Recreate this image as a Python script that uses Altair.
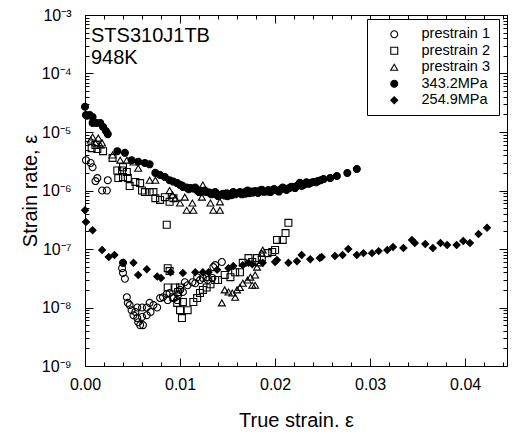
import altair as alt
import pandas as pd

series_names = ["prestrain 1", "prestrain 2", "prestrain 3", "343.2MPa", "254.9MPa"]

prestrain1 = [
    (0.0001, 3.3e-6), (0.0006, 2.95e-6), (0.0008, 2.5e-6), (0.0011, 1.45e-6), (0.0013, 1.63e-6),
    (0.0018, 1.0e-6), (0.0023, 1.0e-6), (0.0024, 1.5e-6),
    (0.0039, 4.7e-8), (0.0040, 5.8e-8), (0.0040, 3.9e-8), (0.0042, 3.1e-8), (0.0044, 1.5e-8),
    (0.0045, 1.2e-8), (0.0047, 1.1e-8), (0.0049, 9.0e-9), (0.0051, 7.4e-9), (0.0053, 8.4e-9),
    (0.0055, 6.6e-9), (0.0055, 1.0e-8), (0.0056, 5.6e-9), (0.0058, 5.0e-9), (0.0060, 1.0e-8),
    (0.0060, 6.9e-9), (0.0061, 5.0e-9), (0.0065, 1.0e-8), (0.0065, 7.4e-9), (0.0068, 1.2e-8),
    (0.0069, 8.4e-9), (0.0072, 1.1e-8), (0.0076, 1.0e-8), (0.0079, 1.45e-8), (0.0082, 1.5e-8),
    (0.0086, 1.7e-8), (0.0087, 1.34e-8), (0.0089, 1.77e-8), (0.0093, 1.45e-8), (0.0097, 1.34e-8),
    (0.0098, 1.63e-8), (0.0100, 2.0e-8), (0.0103, 1.84e-8), (0.0105, 2.7e-8), (0.0108, 2.4e-8),
    (0.0113, 2.7e-8), (0.0116, 2.6e-8), (0.0118, 3.3e-8), (0.0121, 2.95e-8), (0.0124, 3.2e-8),
    (0.0128, 3.3e-8), (0.0129, 2.95e-8), (0.0134, 3.2e-8), (0.0135, 4.9e-8), (0.0137, 5.3e-8),
    (0.0144, 6.0e-8),
]

prestrain2 = [
    (0.0007, 5.3e-6), (0.0011, 6.0e-6), (0.0013, 5.1e-6), (0.0019, 4.7e-6), (0.0029, 3.6e-6),
    (0.0034, 2.2e-6), (0.0039, 2.2e-6), (0.0040, 2.5e-6), (0.0044, 2.07e-6), (0.0035, 1.63e-6),
    (0.0040, 1.7e-6), (0.0045, 1.63e-6), (0.0047, 1.19e-6), (0.0053, 1.4e-6), (0.0058, 1.34e-6),
    (0.0060, 1.0e-6), (0.0063, 9.4e-7), (0.0068, 9.4e-7), (0.0072, 9.4e-7), (0.0074, 7.4e-7),
    (0.0079, 6.9e-7), (0.0084, 7.7e-7), (0.0089, 6.4e-7), (0.0093, 7.4e-7), (0.0086, 2.6e-7),
    (0.0087, 4.7e-8), (0.0089, 4.2e-8), (0.0087, 2.2e-8), (0.0095, 2.2e-8), (0.0100, 2.2e-8),
    (0.0098, 1.84e-8), (0.0093, 1.5e-8), (0.0097, 1.2e-8), (0.0100, 9.0e-9), (0.0102, 6.6e-9),
    (0.0103, 1.24e-8), (0.0108, 9.0e-9), (0.0114, 1.24e-8), (0.0118, 1.45e-8), (0.0121, 1.77e-8),
    (0.0124, 2.0e-8), (0.0128, 2.2e-8), (0.0132, 2.5e-8), (0.0137, 2.95e-8), (0.0140, 2.95e-8),
    (0.0147, 3.6e-8), (0.0153, 3.3e-8), (0.0158, 4.0e-8), (0.0163, 4.0e-8), (0.0166, 5.8e-8),
    (0.0172, 7.0e-8), (0.0176, 6.0e-8), (0.0181, 7.0e-8), (0.0186, 6.5e-8), (0.0192, 8.5e-8),
    (0.0197, 8.9e-8), (0.0200, 9.6e-8), (0.0202, 1.43e-7), (0.0208, 1.43e-7), (0.0211, 1.87e-7),
    (0.0214, 2.8e-7),
]

prestrain3 = [
    (0.0006, 7.3e-6), (0.0008, 8.2e-6), (0.0011, 6.5e-6), (0.0014, 7.9e-6), (0.0016, 6.0e-6),
    (0.0018, 6.5e-6), (0.0029, 4.05e-6), (0.0037, 3.3e-6), (0.0044, 3.3e-6), (0.0051, 3.07e-6),
    (0.0056, 2.4e-6), (0.0068, 1.5e-6), (0.0074, 1.5e-6), (0.0089, 1.0e-6), (0.0092, 8.4e-7),
    (0.0095, 7.4e-7), (0.0100, 6.1e-7), (0.0105, 7.7e-7), (0.0107, 4.6e-7), (0.0113, 6.1e-7),
    (0.0114, 4.6e-7), (0.0123, 7.7e-7), (0.0124, 1.24e-6), (0.0132, 6.1e-7), (0.0135, 4.6e-7),
    (0.0142, 4.6e-7), (0.0142, 6.4e-7),
    (0.0144, 1.2e-8), (0.0147, 2.0e-8), (0.0151, 1.84e-8), (0.0155, 1.77e-8), (0.0158, 1.5e-8),
    (0.0160, 2.0e-8), (0.0163, 2.2e-8), (0.0166, 2.6e-8), (0.0171, 2.95e-8), (0.0174, 3.3e-8),
    (0.0176, 2.4e-8), (0.0179, 3.6e-8), (0.0179, 2.4e-8), (0.0181, 4.9e-8), (0.0184, 5.8e-8),
    (0.0186, 8.5e-8), (0.0187, 9.6e-8),
]

stress343 = [
    (0.0000, 2.7e-5), (0.0001, 1.95e-5), (0.0002, 1.9e-5), (0.0005, 1.95e-5), (0.0008, 1.8e-5),
    (0.0008, 1.43e-5), (0.0012, 1.43e-5), (0.0016, 1.43e-5), (0.0019, 1.22e-5), (0.0022, 1.04e-5),
    (0.0024, 9.2e-6), (0.0034, 4.7e-6), (0.0042, 4.4e-6), (0.0049, 3.3e-6), (0.0056, 3.1e-6),
    (0.0063, 2.95e-6), (0.0068, 2.8e-6), (0.0074, 2.0e-6), (0.0079, 1.84e-6), (0.0084, 1.7e-6),
    (0.0089, 1.5e-6), (0.0093, 1.42e-6), (0.0097, 1.34e-6), (0.0100, 1.25e-6), (0.0103, 1.15e-6),
    (0.0107, 1.12e-6), (0.0111, 1.1e-6), (0.0114, 1.08e-6), (0.0118, 1.0e-6), (0.0121, 1.0e-6),
    (0.0124, 9.6e-7), (0.0128, 9.4e-7), (0.0131, 9.2e-7), (0.0135, 9.0e-7), (0.0138, 8.7e-7),
    (0.0142, 8.4e-7), (0.0145, 8.8e-7), (0.0149, 9.0e-7), (0.0152, 8.6e-7), (0.0156, 9.4e-7),
    (0.0160, 9.0e-7), (0.0163, 9.4e-7), (0.0167, 9.2e-7), (0.0171, 1.0e-6), (0.0175, 9.6e-7),
    (0.0179, 9.8e-7), (0.0184, 1.0e-6), (0.0188, 9.5e-7), (0.0193, 1.02e-6), (0.0197, 1.0e-6),
    (0.0202, 1.0e-6), (0.0206, 1.05e-6), (0.0210, 1.08e-6), (0.0215, 1.1e-6), (0.0219, 1.15e-6),
    (0.0223, 1.2e-6), (0.0226, 1.35e-6), (0.0230, 1.25e-6), (0.0235, 1.3e-6), (0.0240, 1.4e-6),
    (0.0245, 1.45e-6), (0.0251, 1.57e-6), (0.0258, 1.63e-6), (0.0265, 1.77e-6), (0.0276, 1.99e-6),
    (0.0286, 2.33e-6),
    (0.0102, 1.22e-6), (0.0109, 1.05e-6), (0.0116, 1.12e-6), (0.0120, 9.4e-7), (0.0126, 1.0e-6),
    (0.0133, 8.6e-7), (0.0137, 9.4e-7), (0.0140, 8.0e-7), (0.0147, 8.2e-7), (0.0150, 8.0e-7),
    (0.0154, 8.3e-7), (0.0158, 8.6e-7), (0.0165, 8.6e-7), (0.0169, 8.8e-7), (0.0173, 9.0e-7),
    (0.0177, 9.2e-7), (0.0182, 9.1e-7), (0.0186, 1.03e-6), (0.0191, 9.6e-7), (0.0195, 9.4e-7),
    (0.0199, 1.06e-6), (0.0204, 9.6e-7), (0.0208, 1.12e-6), (0.0212, 1.02e-6), (0.0217, 1.16e-6),
    (0.0221, 1.1e-6), (0.0228, 1.2e-6), (0.0233, 1.38e-6), (0.0237, 1.33e-6), (0.0243, 1.38e-6),
    (0.0248, 1.5e-6),
]

stress254 = [
    (0.0000, 4.6e-7), (0.0001, 2.9e-7), (0.0008, 2.1e-7), (0.0018, 9.6e-8), (0.0025, 7.3e-8),
    (0.0031, 7.9e-8), (0.0040, 5.8e-8), (0.0051, 5.8e-8), (0.0056, 3.6e-8), (0.0065, 4.5e-8),
    (0.0076, 3.4e-8), (0.0080, 3.2e-8), (0.0090, 4.0e-8), (0.0103, 3.9e-8), (0.0116, 4.0e-8),
    (0.0124, 4.0e-8), (0.0130, 4.0e-8), (0.0139, 4.4e-8), (0.0151, 4.7e-8), (0.0156, 5.1e-8),
    (0.0166, 5.3e-8), (0.0172, 5.8e-8), (0.0176, 5.5e-8), (0.0187, 5.8e-8), (0.0200, 6.0e-8),
    (0.0202, 6.5e-8), (0.0214, 5.8e-8), (0.0223, 6.2e-8), (0.0228, 7.9e-8), (0.0237, 6.7e-8),
    (0.0247, 7.0e-8), (0.0249, 7.3e-8), (0.0263, 7.6e-8), (0.0271, 7.9e-8), (0.0277, 1.0e-7),
    (0.0286, 7.9e-8), (0.0293, 8.5e-8), (0.0302, 8.5e-8), (0.0309, 9.2e-8), (0.0318, 9.6e-8),
    (0.0324, 1.08e-7), (0.0335, 1.04e-7), (0.0344, 1.43e-7), (0.0347, 1.27e-7), (0.0358, 1.22e-7),
    (0.0366, 1.04e-7), (0.0374, 1.27e-7), (0.0381, 1.17e-7), (0.0391, 1.17e-7), (0.0398, 1.37e-7),
    (0.0405, 1.27e-7), (0.0414, 1.8e-7), (0.0423, 2.3e-7),
]

annotation_lines = ["STS310J1TB", "948K"]

rows = []
for name, pts in zip(series_names, [prestrain1, prestrain2, prestrain3, stress343, stress254]):
    for sx, ry in pts:
        rows.append({"series": name, "strain": sx, "rate": ry})
df = pd.DataFrame(rows)

FONT = "Liberation Sans"
x_ticks = [round(i * 0.002, 3) for i in range(23)]
y_ticks = [float(f"{m}e{e}") for e in range(-9, -3) for m in range(1, 10)] + [1e-3]

x_major = "abs(datum.value*100 - round(datum.value*100)) < 0.000001"
y_major = "abs(log(datum.value)/LN10 - round(log(datum.value)/LN10)) < 0.000001"
sup = "['\u2070','\u00b9','\u00b2','\u00b3','\u2074','\u2075','\u2076','\u2077','\u2078','\u2079']"
y_label = f"({y_major}) ? '10\u207b' + {sup}[-round(log(datum.value)/LN10)] : ''"
x_label = f"({x_major}) ? format(datum.value, '.2f') : ''"


def tick_size(test):
    return {"condition": {"test": test, "value": -8}, "value": -4}


xscale = alt.Scale(domain=[0, 0.0444], nice=False, zero=False)
yscale = alt.Scale(type="log", domain=[1e-9, 1e-3], nice=False)

common_axis = dict(grid=False, domainColor="black", tickColor="black", labelColor="black",
                   titleColor="black", labelFont=FONT, titleFont=FONT, titleFontWeight="normal",
                   labelOverlap=False, labelFlush=False, domainWidth=1, tickWidth=1)

legend = alt.Legend(title=None, orient="none", legendX=282, legendY=4, strokeColor="black",
                    fillColor="white", padding=8, symbolOffset=12, labelOffset=20,
                    labelFontSize=14.5, labelFont=FONT, labelColor="black", rowPadding=1.5,
                    symbolStrokeColor="black", symbolStrokeWidth=1.1)

points = alt.Chart(df).mark_point(stroke="black", strokeWidth=1.1, opacity=1).encode(
    x=alt.X("strain:Q", scale=xscale,
            axis=alt.Axis(orient="bottom", values=x_ticks, labelExpr=x_label,
                          tickSize=tick_size(x_major), labelPadding=18, labelFontSize=16,
                          title="True strain. \u03b5", titleFontSize=20, titlePadding=14,
                          **common_axis)),
    y=alt.Y("rate:Q", scale=yscale,
            axis=alt.Axis(orient="left", values=y_ticks, labelExpr=y_label,
                          tickSize=tick_size(y_major), labelPadding=22, labelFontSize=16,
                          title="Strain rate, \u03b5", titleFontSize=20, titlePadding=1,
                          **common_axis)),
    shape=alt.Shape("series:N", scale=alt.Scale(domain=series_names,
                    range=["circle", "square", "triangle-up", "circle", "diamond"]), legend=legend),
    fill=alt.Fill("series:N", scale=alt.Scale(domain=series_names,
                  range=["transparent", "transparent", "transparent", "black", "black"]), legend=legend),
    stroke=alt.Stroke("series:N", scale=alt.Scale(domain=series_names,
                      range=["black", "black", "black", "black", "black"]), legend=legend),
    size=alt.Size("series:N", scale=alt.Scale(domain=series_names,
                  range=[48, 48, 48, 75, 85]), legend=legend),
)

frame = alt.Chart(df).mark_point(opacity=0).encode(
    x=alt.X("strain:Q", scale=xscale,
            axis=alt.Axis(orient="top", values=x_ticks, labels=False, title=None,
                          tickSize=tick_size(x_major), **common_axis)),
    y=alt.Y("rate:Q", scale=yscale,
            axis=alt.Axis(orient="right", values=y_ticks, labels=False, title=None,
                          tickSize=tick_size(y_major), **common_axis)),
)

text1 = alt.Chart(pd.DataFrame({"t": [annotation_lines[0]]})).mark_text(
    align="left", baseline="alphabetic", font=FONT, fontSize=20, color="black"
).encode(x=alt.value(6), y=alt.value(27), text="t:N")
text2 = alt.Chart(pd.DataFrame({"t": [annotation_lines[1]]})).mark_text(
    align="left", baseline="alphabetic", font=FONT, fontSize=20, color="black"
).encode(x=alt.value(6), y=alt.value(49), text="t:N")

chart = alt.layer(frame, points, text1, text2).resolve_axis(
    x="independent", y="independent"
).properties(
    width=422, height=351,
    autosize=alt.AutoSizeParams(type="none"),
    padding={"left": 85, "top": 15, "right": 7, "bottom": 68},
).configure_view(stroke=None).configure(background="white")

chart.save("out.html", embed_options={"renderer": "svg", "actions": False})
